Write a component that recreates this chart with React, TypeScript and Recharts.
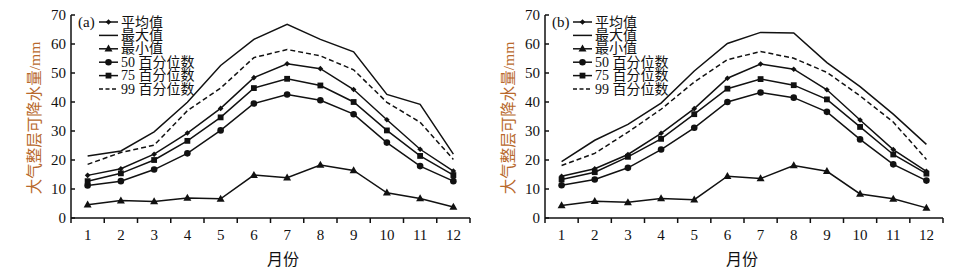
import { LineChart, Line, XAxis, YAxis, Customized } from "recharts";

const MONTHS = [1, 2, 3, 4, 5, 6, 7, 8, 9, 10, 11, 12];
const Y_TICKS = [0, 10, 20, 30, 40, 50, 60, 70];
// labels at the months, tick marks between them
const X_TICKS = [0.5, 1, 1.5, 2, 2.5, 3, 3.5, 4, 4.5, 5, 5.5, 6, 6.5, 7, 7.5, 8, 8.5, 9, 9.5, 10, 10.5, 11, 11.5, 12, 12.5];

// panel (a)
const meanA = [14.7, 17.0, 22.0, 29.3, 37.8, 48.4, 53.2, 51.5, 44.3, 33.9, 23.7, 16.2];
const maxA = [21.4, 23.1, 29.7, 39.9, 52.6, 61.6, 66.8, 61.6, 57.3, 42.6, 39.2, 22.0];
const minA = [4.6, 6.0, 5.7, 6.9, 6.6, 14.8, 13.9, 18.3, 16.4, 8.7, 6.7, 3.8];
const p50A = [11.2, 12.7, 16.7, 22.3, 30.2, 39.5, 42.6, 40.6, 35.8, 26.0, 17.9, 12.7];
const p75A = [12.7, 15.4, 20.0, 26.6, 34.7, 44.8, 48.0, 45.7, 40.0, 30.2, 21.4, 14.8];
const p99A = [18.5, 22.6, 25.1, 37.0, 44.8, 55.3, 58.1, 55.9, 51.1, 39.9, 33.0, 20.2];

// panel (b)
const meanB = [14.4, 17.0, 21.9, 29.2, 37.7, 48.2, 53.1, 51.3, 44.2, 33.8, 23.6, 16.1];
const maxB = [19.4, 26.8, 32.3, 39.6, 50.7, 60.2, 64.0, 63.8, 53.6, 45.3, 35.8, 25.4];
const minB = [4.3, 5.8, 5.4, 6.7, 6.3, 14.4, 13.6, 18.1, 16.1, 8.3, 6.6, 3.5];
const p50B = [11.3, 13.3, 17.3, 23.6, 31.1, 40.0, 43.3, 41.5, 36.6, 27.1, 18.5, 12.9];
const p75B = [13.3, 15.8, 21.1, 27.3, 35.8, 44.6, 47.9, 45.8, 40.9, 31.4, 21.9, 15.3];
const p99B = [18.1, 22.3, 29.6, 37.5, 46.9, 54.6, 57.4, 55.1, 50.2, 42.1, 33.1, 20.2];

const SERIES = [
  { key: "mean", name: "平均值", marker: "diamond", dashed: false },
  { key: "max", name: "最大值", marker: "none", dashed: false },
  { key: "min", name: "最小值", marker: "triangle", dashed: false },
  { key: "p50", name: "50 百分位数", marker: "circle", dashed: false },
  { key: "p75", name: "75 百分位数", marker: "square", dashed: false },
  { key: "p99", name: "99 百分位数", marker: "none", dashed: true },
];

const INK = "#111";
const SERIF = '"Liberation Serif", "Times New Roman", "Noto Sans CJK SC", serif';
const CJK = '"Noto Sans CJK SC", sans-serif';

function buildRows(mean: number[], max: number[], min: number[], p50: number[], p75: number[], p99: number[]) {
  return MONTHS.map((m, i) => ({
    month: m,
    mean: mean[i],
    max: max[i],
    min: min[i],
    p50: p50[i],
    p75: p75[i],
    p99: p99[i],
  }));
}

const rowsA = buildRows(meanA, maxA, minA, p50A, p75A, p99A);
const rowsB = buildRows(meanB, maxB, minB, p50B, p75B, p99B);

function Marker({ kind, cx, cy }: { kind: string; cx: number; cy: number }) {
  if (kind === "diamond") {
    const r = 2.8;
    return <polygon points={`${cx},${cy - r} ${cx + r},${cy} ${cx},${cy + r} ${cx - r},${cy}`} fill={INK} />;
  }
  if (kind === "triangle") {
    return <polygon points={`${cx},${cy - 4.2} ${cx + 4},${cy + 2.8} ${cx - 4},${cy + 2.8}`} fill={INK} />;
  }
  if (kind === "circle") {
    return <circle cx={cx} cy={cy} r={3.3} fill={INK} />;
  }
  if (kind === "square") {
    return <rect x={cx - 2.9} y={cy - 2.9} width={5.8} height={5.8} fill={INK} />;
  }
  return null;
}

function YTick(props: any) {
  const { x, y, payload } = props;
  return (
    <g>
      <line x1={x} x2={x + 4} y1={y} y2={y} stroke={INK} strokeWidth={1.5} />
      <text x={x - 5} y={y} textAnchor="end" dominantBaseline="central" fontFamily={SERIF} fontSize={15} fill={INK}>
        {payload.value}
      </text>
    </g>
  );
}

function XTick(props: any) {
  const { x, y, payload } = props;
  const v = payload.value;
  if (!Number.isInteger(v)) {
    return <line x1={x} x2={x} y1={y} y2={y + 5} stroke={INK} strokeWidth={1.5} />;
  }
  return (
    <text x={x} y={y + 17} textAnchor="middle" dominantBaseline="central" fontFamily={SERIF} fontSize={15} fill={INK}>
      {v}
    </text>
  );
}

function Overlay({ axisX, tag, xLabelX }: { axisX: number; tag: string; xLabelX: number }) {
  const rowY = [22, 35.4, 48.8, 62.2, 75.6, 89];
  return (
    <g>
      <text
        transform={`translate(${axisX - 37}, 118) rotate(-90)`}
        textAnchor="middle"
        dominantBaseline="central"
        fontFamily={SERIF}
        fontSize={15.5}
        fill="#b8692c"
      >
        大气整层可降水量/mm
      </text>
      <text x={xLabelX} y={258} textAnchor="middle" dominantBaseline="central" fontFamily={CJK} fontSize={16} fill={INK}>
        月份
      </text>
      <text x={axisX + 7} y={22} dominantBaseline="central" fontFamily={SERIF} fontSize={15} fill={INK}>
        {tag}
      </text>
      {SERIES.map((s, i) => (
        <g key={s.key}>
          <line
            x1={axisX + 28}
            x2={axisX + 47}
            y1={rowY[i]}
            y2={rowY[i]}
            stroke={INK}
            strokeWidth={1.5}
            strokeDasharray={s.dashed ? "4 2.5" : undefined}
          />
          <Marker kind={s.marker} cx={axisX + 37.5} cy={rowY[i]} />
          <text x={axisX + 50} y={rowY[i]} dominantBaseline="central" fontFamily={SERIF} fontSize={14} fill={INK}>
            {s.name}
          </text>
        </g>
      ))}
    </g>
  );
}

function Panel({
  rows,
  tag,
  width,
  yAxisWidth,
  marginRight,
  xLabelX,
}: {
  rows: any[];
  tag: string;
  width: number;
  yAxisWidth: number;
  marginRight: number;
  xLabelX: number;
}) {
  return (
    <LineChart width={width} height={271} data={rows} margin={{ top: 15, right: marginRight, bottom: 23, left: 0 }}>
      <XAxis
        dataKey="month"
        type="number"
        domain={[0.5, 12.5]}
        ticks={X_TICKS}
        interval={0}
        height={30}
        tickSize={0}
        tickMargin={0}
        tickLine={false}
        axisLine={{ stroke: INK, strokeWidth: 1.5 }}
        tick={<XTick />}
      />
      <YAxis
        type="number"
        domain={[0, 70]}
        ticks={Y_TICKS}
        interval={0}
        width={yAxisWidth}
        tickSize={0}
        tickMargin={0}
        tickLine={false}
        axisLine={{ stroke: INK, strokeWidth: 1.5 }}
        tick={<YTick />}
      />
      {SERIES.map((s) => (
        <Line
          key={s.key}
          dataKey={s.key}
          name={s.name}
          stroke={INK}
          strokeWidth={1.5}
          strokeDasharray={s.dashed ? "5 3" : undefined}
          isAnimationActive={false}
          dot={
            s.marker === "none"
              ? false
              : (p: any) => <Marker key={`${s.key}-${p.index}`} kind={s.marker} cx={p.cx} cy={p.cy} />
          }
          activeDot={false}
        />
      ))}
      <Customized component={<Overlay axisX={yAxisWidth} tag={tag} xLabelX={xLabelX} />} />
    </LineChart>
  );
}

export default function App() {
  return (
    <div style={{ position: "fixed", left: 0, top: 0, width: 955, height: 271, background: "#fff" }}>
      <div style={{ position: "absolute", left: 0, top: 0 }}>
        <Panel rows={rowsA} tag="(a)" width={480} yAxisWidth={71} marginRight={10} xLabelX={283} />
      </div>
      <div style={{ position: "absolute", left: 480, top: 0 }}>
        <Panel rows={rowsB} tag="(b)" width={475} yAxisWidth={65} marginRight={12} xLabelX={262} />
      </div>
    </div>
  );
}
